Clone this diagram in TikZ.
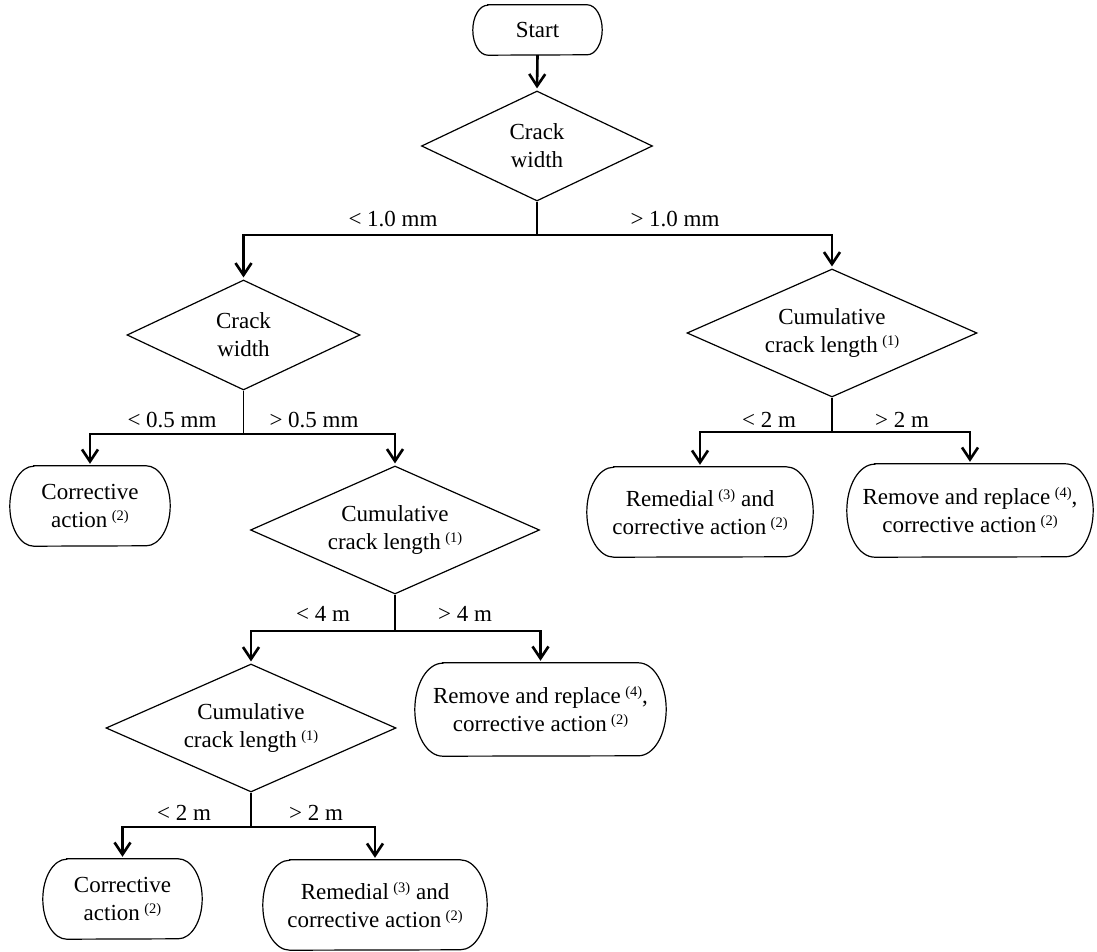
\documentclass[tikz,border=0pt]{standalone}
\usepackage{fontspec}
\setmainfont{Liberation Serif}
\usetikzlibrary{shapes.geometric,arrows.meta,calc}
\newcommand\sups[1]{\hspace{4.5pt}\raisebox{7pt}{\fontsize{14.5}{14.5}\selectfont(#1)}}
\newcommand\termbox[5]{%
  \node[termtext, minimum width=#3pt, minimum height=#4pt] (#1) at (#2) {#5};
  \draw[boxline] ([xshift=0.3*#4pt]#1.north west) -- ([xshift=-0.3*#4pt]#1.north east)
    arc[start angle=90, end angle=-90, x radius=0.3*#4pt, y radius=0.5*#4pt]
    -- ([xshift=0.3*#4pt]#1.south west)
    arc[start angle=270, end angle=90, x radius=0.3*#4pt, y radius=0.5*#4pt] -- cycle;
}
\tikzset{
  boxline/.style={line width=1.2pt},
  termtext/.style={inner sep=0pt, align=center},
  dia/.style={draw, line width=1.2pt, shape=diamond, aspect=2.2, inner sep=0pt, align=center},
  conn/.style={line width=2.6pt, -{Straight Barb[length=12pt,width=16pt]}, shorten >=2pt},
  thinline/.style={line width=1.2pt},
  lbl/.style={anchor=base, inner sep=0pt}
}
\begin{document}
\begin{tikzpicture}[x=1pt, y=1pt, font=\fontsize{23}{28}\selectfont]
\useasboundingbox (0,0) rectangle (1097,951);

% nodes
\termbox{start}{537.5,921}{129}{50}{Start}
\node[dia, minimum width=231pt, minimum height=110pt] (d1) at (537,805) {Crack\\width};
\node[dia, minimum width=233pt, minimum height=110pt] (d2) at (243.5,616) {Crack\\width};
\node[dia, minimum width=290pt, minimum height=128pt] (d3) at (832,618) {Cumulative\\crack length\sups{1}};
\node[dia, minimum width=289pt, minimum height=128pt] (d4) at (395,421) {Cumulative\\crack length\sups{1}};
\node[dia, minimum width=290pt, minimum height=128pt] (d5) at (251,223) {Cumulative\\crack length\sups{1}};

\termbox{c1}{90,445}{160}{80}{Corrective\\action\sups{2}}
\termbox{rem2}{700,439}{226}{90}{Remedial\sups{3} and\\corrective action\sups{2}}
\termbox{r2}{970,440.5}{246}{93}{Remove and replace\sups{4},\\corrective action\sups{2}}
\termbox{r1}{540.5,241.5}{251}{93}{Remove and replace\sups{4},\\corrective action\sups{2}}
\termbox{c3}{122.5,52}{159}{80}{Corrective\\action\sups{2}}
\termbox{rem1}{375,46}{224}{90}{Remedial\sups{3} and\\corrective action\sups{2}}

% junctions
\coordinate (j1) at (537,716);
\coordinate (j2) at (243.5,517);
\coordinate (j3) at (832,519);
\coordinate (j4) at (395,320);
\coordinate (j5) at (251,124);

% connectors
\draw[conn] (start.south) -- (d1.north);
\draw[thinline] (d1.south) -- (j1);
\draw[conn] (j1) -| (d2.north);
\draw[conn] (j1) -| (d3.north);
\draw[thinline] (d2.south) -- (j2);
\draw[conn] (j2) -| (c1.north);
\draw[conn] (j2) -| (d4.north);
\draw[thinline] (d3.south) -- (j3);
\draw[conn] (j3) -| (rem2.north);
\draw[conn] (j3) -| (r2.north);
\draw[thinline] (d4.south) -- (j4);
\draw[conn] (j4) -| (d5.north);
\draw[conn] (j4) -| (r1.north);
\draw[thinline] (d5.south) -- (j5);
\draw[conn] (j5) -| (c3.north);
\draw[conn] (j5) -| (rem1.north);

% labels
\node[lbl] (l1a) at (393,724) {< 1.0 mm};
\node[lbl] (l1b) at (675,724) {> 1.0 mm};
\node[lbl] (l2a) at (172,523) {< 0.5 mm};
\node[lbl] (l2b) at (314,523) {> 0.5 mm};
\node[lbl] (l3a) at (769,523) {< 2 m};
\node[lbl] (l3b) at (902,523) {> 2 m};
\node[lbl] (l4a) at (323,329) {< 4 m};
\node[lbl] (l4b) at (465,329) {> 4 m};
\node[lbl] (l5a) at (184,131) {< 2 m};
\node[lbl] (l5b) at (316,131) {> 2 m};
\end{tikzpicture}
\end{document}
